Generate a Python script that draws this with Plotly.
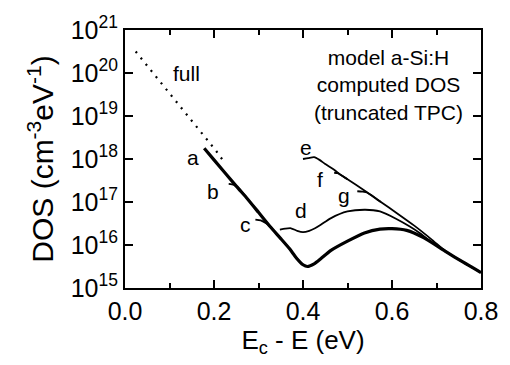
import math
import plotly.graph_objects as go

# ---------------- data ----------------
# energy below the conduction band edge, Ec - E (eV); DOS in cm^-3 eV^-1
full_x = [0.024, 0.06, 0.10, 0.14, 0.18, 0.204, 0.225]
full_y = [3.16e20, 1.10e20, 3.39e19, 1.05e19, 3.16e18, 1.58e18, 7.94e17]

a_x = [0.178, 0.20, 0.25, 0.273, 0.30, 0.326, 0.35, 0.37, 0.385, 0.40, 0.41,
       0.425, 0.44, 0.462, 0.50, 0.538, 0.573, 0.60, 0.633, 0.671, 0.722, 0.76, 0.80]
a_y = [1.78e18, 9.55e17, 2.34e17, 1.26e17, 5.75e16, 2.69e16, 1.41e16, 8.13e15, 5.01e15,
       3.47e15, 3.16e15, 3.63e15, 4.79e15, 7.41e15, 1.23e16, 1.91e16, 2.34e16, 2.40e16,
       2.19e16, 1.48e16, 6.92e15, 3.98e15, 2.29e15]

b_x = [0.233, 0.245, 0.258, 0.273, 0.30, 0.326, 0.35, 0.37, 0.385, 0.40, 0.41]
b_y = [2.63e17, 2.51e17, 2.00e17, 1.26e17, 5.75e16, 2.69e16, 1.41e16, 8.13e15, 5.01e15,
       3.47e15, 3.16e15]

c_x = [0.293, 0.305, 0.316, 0.326, 0.35, 0.37, 0.385, 0.40, 0.41]
c_y = [3.89e16, 3.72e16, 3.24e16, 2.69e16, 1.41e16, 8.13e15, 5.01e15, 3.47e15, 3.16e15]

d_x = [0.348, 0.36, 0.373, 0.387, 0.40, 0.414, 0.427, 0.44, 0.462, 0.50, 0.54, 0.573,
       0.611, 0.64, 0.662, 0.69, 0.722, 0.76, 0.80]
d_y = [2.29e16, 2.40e16, 2.45e16, 2.14e16, 2.00e16, 2.14e16, 2.45e16, 2.95e16, 4.17e16,
       6.03e16, 6.61e16, 6.03e16, 3.98e16, 2.69e16, 1.91e16, 1.15e16, 6.92e15, 3.98e15,
       2.29e15]

e_x = [0.400, 0.412, 0.425, 0.437, 0.449, 0.47, 0.486, 0.50, 0.538, 0.575, 0.611, 0.65,
       0.69, 0.722, 0.76, 0.80]
e_y = [1.00e18, 1.05e18, 1.10e18, 9.55e17, 7.76e17, 5.62e17, 4.17e17, 3.39e17, 1.86e17,
       1.00e17, 5.50e16, 2.82e16, 1.32e16, 6.92e15, 3.98e15, 2.29e15]

f_x = [0.470, 0.478, 0.486, 0.50]
f_y = [4.79e17, 4.68e17, 4.17e17, 3.39e17]

g_x = [0.522, 0.533, 0.544, 0.575]
g_y = [1.78e17, 1.74e17, 1.66e17, 1.00e17]

# curve labels: text, x, y
label_text = ["full", "a", "b", "c", "d", "e", "f", "g"]
label_x = [0.138, 0.153, 0.198, 0.271, 0.396, 0.407, 0.438, 0.491]
label_y = [1.0e20, 1.1e18, 1.75e17, 3.0e16, 6.3e16, 1.9e18, 3.3e17, 1.4e17]

x_tickvals = [0.0, 0.2, 0.4, 0.6, 0.8]
x_ticktext = ["0.0", "0.2", "0.4", "0.6", "0.8"]
y_tickvals = [1e15, 1e16, 1e17, 1e18, 1e19, 1e20, 1e21]
y_ticktext = ["10<sup>15</sup>", "10<sup>16</sup>", "10<sup>17</sup>", "10<sup>18</sup>",
              "10<sup>19</sup>", "10<sup>20</sup>", "10<sup>21</sup>"]

FONT = "Liberation Sans, Arial, Helvetica, sans-serif"

fig = go.Figure()

fig.add_trace(go.Scatter(x=full_x, y=full_y, mode="lines",
                         line=dict(color="black", width=2.2, dash="2px,6px")))
thin = dict(color="black", width=1.8, shape="spline", smoothing=0.6)
for xs, ys in [(b_x, b_y), (c_x, c_y), (d_x, d_y), (e_x, e_y), (f_x, f_y), (g_x, g_y)]:
    fig.add_trace(go.Scatter(x=xs, y=ys, mode="lines", line=thin))
fig.add_trace(go.Scatter(x=a_x, y=a_y, mode="lines",
                         line=dict(color="black", width=3.2, shape="spline", smoothing=0.6)))

# annotation positions on a log axis are given in log10 units
for t, lx, ly in zip(label_text, label_x, label_y):
    fig.add_annotation(x=lx, y=math.log10(ly), text=t, showarrow=False,
                       font=dict(family=FONT, size=21, color="black"),
                       xanchor="center", yanchor="middle")

fig.add_annotation(xref="paper", yref="paper", x=0.739, y=0.945,
                   text="model a-Si:H<br>computed DOS<br>(truncated TPC)",
                   showarrow=False, align="center", xanchor="center", yanchor="top",
                   font=dict(family=FONT, size=21, color="black"))

fig.update_layout(
    width=510, height=365,
    margin=dict(l=125, r=25, t=25, b=77),
    paper_bgcolor="white", plot_bgcolor="white",
    showlegend=False,
    font=dict(family=FONT, color="black"),
)
fig.update_xaxes(
    range=[0, 0.8], tickvals=x_tickvals, ticktext=x_ticktext,
    ticks="inside", ticklen=8, tickwidth=1.5, tickcolor="black",
    minor=dict(dtick=0.1, tick0=0, ticks="inside", ticklen=5, tickwidth=1.5, tickcolor="black"),
    showline=True, linewidth=2, linecolor="black", mirror="ticks",
    showgrid=False, zeroline=False,
    tickfont=dict(family=FONT, size=25, color="black"),
    title=dict(text="E<sub>c</sub> - E (eV)", font=dict(family=FONT, size=26, color="black"),
               standoff=5),
)
fig.update_yaxes(
    type="log", range=[15, 21],
    tickvals=y_tickvals, ticktext=y_ticktext,
    ticks="inside", ticklen=8, tickwidth=1.5, tickcolor="black",
    showline=True, linewidth=2, linecolor="black", mirror="ticks",
    showgrid=False, zeroline=False,
    tickfont=dict(family=FONT, size=25, color="black"),
    title=dict(text="DOS (cm<sup>-3</sup>eV<sup>-1</sup>)",
               font=dict(family=FONT, size=30, color="black"), standoff=8),
)

fig.write_html("out.html")
